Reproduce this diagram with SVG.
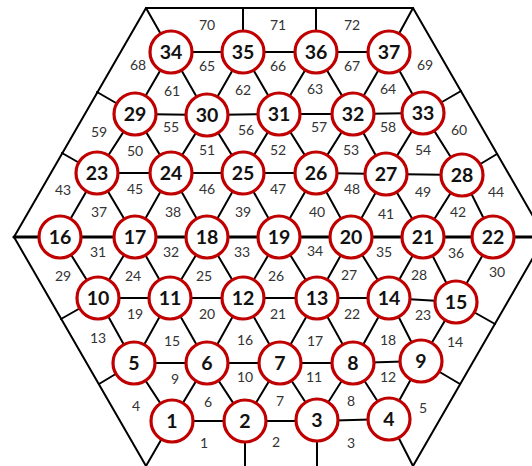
<svg xmlns="http://www.w3.org/2000/svg" width="532" height="466" viewBox="0 0 532 466">
<style>
.e{stroke:#000;stroke-width:2;fill:none;stroke-linecap:round}
.t{stroke-width:3.2}
.n circle{fill:#fff;stroke:#C00000;stroke-width:3.2}
.n text{font-family:Lato,"Liberation Sans",sans-serif;font-weight:bold;font-size:19.5px;text-anchor:middle;fill:#111}
.f{font-family:Lato,"Liberation Sans",sans-serif;font-size:14px;text-anchor:middle;fill:#333}
</style>
<rect width="532" height="466" fill="#fff"/>
<g id="connectors">
<path class="e" d="M146,466 L14,237 L146,8 L413,8 L545,237 L413,466"/>
<path class="e" d="M172,421H245H317L389,419 M134,363H353L421,361 M98,298H389L456,302 M97,173H316L386,174L462,175 M135,114L207,115L279,114H353L423,113 M171,52H389"/>
<path class="e t" d="M14,237H545"/>
<path class="e" d="M134,363L172,421L207,363L245,421L280,363L317,420L353,363L389,419L421,361"/>
<path class="e" d="M98,298L134,363L170,298L207,363L243,298L280,363L317,298L353,363L389,298L421,361L456,302"/>
<path class="e" d="M60,237L98,298L135,237L170,298L207,237L243,298L279,237L317,298L351,237L389,298L423,237L456,302L493,237"/>
<path class="e" d="M60,237L97,173L135,237L171,173L207,237L243,173L279,237L316,173L351,237L386,174L423,237L462,175L493,237"/>
<path class="e" d="M97,173L135,114L171,173L207,115L243,173L279,114L316,173L353,114L386,174L423,113L462,175"/>
<path class="e" d="M135,114L171,52L207,115L243,52L279,114L316,52L353,114L389,52L423,113"/>
<path class="e" d="M171,52L146,8 M243,52V8 M316,52V8 M389,52L413,8 M135,114L97,92 M97,173L62,153 M98,298L61,319 M134,363L99,384 M172,421L146,466 M245,421V466 M317,420V466 M389,419L413,466 M421,361L460,384 M456,302L495,324 M462,175L497,154 M423,113L461,91"/>
</g>
<g class="n" id="n1"><circle cx="172" cy="421" r="21"/><text x="172" y="428">1</text></g>
<g class="n" id="n2"><circle cx="245" cy="421" r="21"/><text x="245" y="428">2</text></g>
<g class="n" id="n3"><circle cx="317" cy="420" r="21"/><text x="317" y="427">3</text></g>
<g class="n" id="n4"><circle cx="389" cy="419" r="21"/><text x="389" y="426">4</text></g>
<g class="n" id="n5"><circle cx="134" cy="363" r="21"/><text x="134" y="370">5</text></g>
<g class="n" id="n6"><circle cx="207" cy="363" r="21"/><text x="207" y="370">6</text></g>
<g class="n" id="n7"><circle cx="280" cy="363" r="21"/><text x="280" y="370">7</text></g>
<g class="n" id="n8"><circle cx="353" cy="363" r="21"/><text x="353" y="370">8</text></g>
<g class="n" id="n9"><circle cx="421" cy="361" r="21"/><text x="421" y="368">9</text></g>
<g class="n" id="n10"><circle cx="98" cy="298" r="21"/><text x="98" y="305">10</text></g>
<g class="n" id="n11"><circle cx="170" cy="298" r="21"/><text x="170" y="305">11</text></g>
<g class="n" id="n12"><circle cx="243" cy="298" r="21"/><text x="243" y="305">12</text></g>
<g class="n" id="n13"><circle cx="317" cy="298" r="21"/><text x="317" y="305">13</text></g>
<g class="n" id="n14"><circle cx="389" cy="298" r="21"/><text x="389" y="305">14</text></g>
<g class="n" id="n15"><circle cx="456" cy="302" r="21"/><text x="456" y="309">15</text></g>
<g class="n" id="n16"><circle cx="60" cy="237" r="21"/><text x="60" y="244">16</text></g>
<g class="n" id="n17"><circle cx="135" cy="237" r="21"/><text x="135" y="244">17</text></g>
<g class="n" id="n18"><circle cx="207" cy="237" r="21"/><text x="207" y="244">18</text></g>
<g class="n" id="n19"><circle cx="279" cy="237" r="21"/><text x="279" y="244">19</text></g>
<g class="n" id="n20"><circle cx="351" cy="237" r="21"/><text x="351" y="244">20</text></g>
<g class="n" id="n21"><circle cx="423" cy="237" r="21"/><text x="423" y="244">21</text></g>
<g class="n" id="n22"><circle cx="493" cy="237" r="21"/><text x="493" y="244">22</text></g>
<g class="n" id="n23"><circle cx="97" cy="173" r="21"/><text x="97" y="180">23</text></g>
<g class="n" id="n24"><circle cx="171" cy="173" r="21"/><text x="171" y="180">24</text></g>
<g class="n" id="n25"><circle cx="243" cy="173" r="21"/><text x="243" y="180">25</text></g>
<g class="n" id="n26"><circle cx="316" cy="173" r="21"/><text x="316" y="180">26</text></g>
<g class="n" id="n27"><circle cx="386" cy="174" r="21"/><text x="386" y="181">27</text></g>
<g class="n" id="n28"><circle cx="462" cy="175" r="21"/><text x="462" y="182">28</text></g>
<g class="n" id="n29"><circle cx="135" cy="114" r="21"/><text x="135" y="121">29</text></g>
<g class="n" id="n30"><circle cx="207" cy="115" r="21"/><text x="207" y="122">30</text></g>
<g class="n" id="n31"><circle cx="279" cy="114" r="21"/><text x="279" y="121">31</text></g>
<g class="n" id="n32"><circle cx="353" cy="114" r="21"/><text x="353" y="121">32</text></g>
<g class="n" id="n33"><circle cx="423" cy="113" r="21"/><text x="423" y="120">33</text></g>
<g class="n" id="n34"><circle cx="171" cy="52" r="21"/><text x="171" y="59">34</text></g>
<g class="n" id="n35"><circle cx="243" cy="52" r="21"/><text x="243" y="59">35</text></g>
<g class="n" id="n36"><circle cx="316" cy="52" r="21"/><text x="316" y="59">36</text></g>
<g class="n" id="n37"><circle cx="389" cy="52" r="21"/><text x="389" y="59">37</text></g>
<g id="faces" class="f">
<text x="204" y="448">1</text><text x="276" y="447">2</text><text x="351" y="448">3</text>
<text x="136" y="411">4</text><text x="423" y="413">5</text><text x="208" y="407">6</text><text x="280" y="406">7</text><text x="351" y="406">8</text>
<text x="175" y="384">9</text><text x="245" y="382">10</text><text x="314" y="382">11</text><text x="388" y="382">12</text>
<text x="98" y="343">13</text><text x="455" y="347">14</text><text x="172" y="346">15</text><text x="245" y="345">16</text><text x="315" y="346">17</text><text x="388" y="345">18</text>
<text x="135" y="319">19</text><text x="207" y="319">20</text><text x="278" y="319">21</text><text x="352" y="319">22</text><text x="423" y="320">23</text>
<text x="133" y="281">24</text><text x="204" y="281">25</text><text x="276" y="281">26</text><text x="349" y="280">27</text><text x="419" y="280">28</text>
<text x="63" y="281">29</text><text x="497" y="277">30</text>
<text x="98" y="257">31</text><text x="171" y="257">32</text><text x="242" y="257">33</text><text x="315" y="256">34</text><text x="384" y="257">35</text><text x="456" y="258">36</text>
<text x="99" y="217">37</text><text x="173" y="217">38</text><text x="243" y="217">39</text><text x="317" y="217">40</text><text x="386" y="219">41</text><text x="458" y="217">42</text>
<text x="63" y="195">43</text><text x="496" y="197">44</text>
<text x="135" y="194">45</text><text x="207" y="194">46</text><text x="278" y="194">47</text><text x="352" y="194">48</text><text x="423" y="197">49</text>
<text x="135" y="156">50</text><text x="207" y="155">51</text><text x="278" y="155">52</text><text x="351" y="155">53</text><text x="423" y="155">54</text>
<text x="171" y="132">55</text><text x="246" y="135">56</text><text x="319" y="132">57</text><text x="388" y="132">58</text>
<text x="99" y="137">59</text><text x="459" y="135">60</text>
<text x="172" y="96">61</text><text x="243" y="95">62</text><text x="315" y="94">63</text><text x="388" y="94">64</text>
<text x="207" y="71">65</text><text x="278" y="71">66</text><text x="352" y="71">67</text>
<text x="138" y="70">68</text><text x="425" y="70">69</text>
<text x="207" y="30">70</text><text x="278" y="30">71</text><text x="352" y="30">72</text>
</g>
</svg>
